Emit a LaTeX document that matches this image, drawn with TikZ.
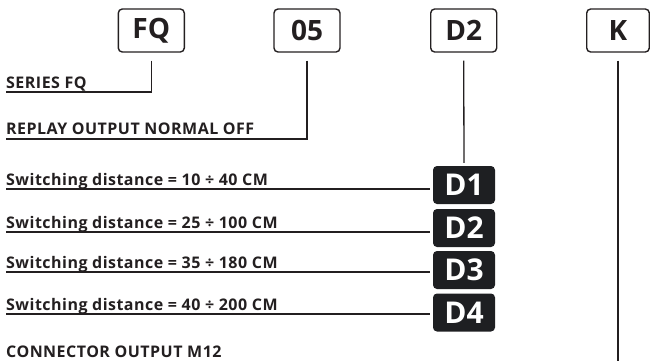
\documentclass[tikz,border=0pt]{standalone}
\usepackage{fontspec}
\setmainfont{Open Sans}
\newfontfamily\labelfont[LetterSpace=3]{Open Sans}
\definecolor{ink}{RGB}{35,31,32}
\definecolor{tagfill}{RGB}{30,31,34}
\begin{document}
\begin{tikzpicture}[x=1pt,y=-1pt,
  codebox/.style={draw=ink, line width=1.4pt, rounded corners=4pt,
    minimum width=66pt, minimum height=43pt, inner sep=0pt, text=ink,
    font=\bfseries\fontsize{28}{28}\selectfont},
  tag/.style={fill=tagfill, rounded corners=4pt, minimum width=62pt,
    minimum height=38pt, inner sep=0pt, text=white,
    font=\bfseries\fontsize{30}{30}\selectfont},
  label/.style={anchor=base west, inner sep=0pt, text=ink,
    font=\labelfont\bfseries\fontsize{16}{16}\selectfont},
  lead/.style={draw=ink, line width=1.3pt}
]
\useasboundingbox (0,0) rectangle (650,360);

% code boxes along the top
\node[codebox] (fq)  at (151.3,30.5) {FQ};
\node[codebox] (c05) at (307,30.5) {05};
\node[codebox] (cd2) at (463.7,30.5) {D2};
\node[codebox, minimum width=62.6pt] (ck) at (618,30.5) {K};

% option descriptions
\node[label] (tser) at (6,88) {SERIES FQ};
\node[label] (trep) at (6,134) {REPLAY OUTPUT NORMAL OFF};
\node[label] (t1) at (6,185.5) {Switching distance = 10 ÷ 40 CM};
\node[label] (t2) at (6,228) {Switching distance = 25 ÷ 100 CM};
\node[label] (t3) at (6,268) {Switching distance = 35 ÷ 180 CM};
\node[label] (t4) at (6,310) {Switching distance = 40 ÷ 200 CM};
\node[label] (tcon) at (6,357.5) {CONNECTOR OUTPUT M12};

% distance tags
\node[tag] (d1) at (464,185) {D1};
\node[tag] (d2) at (464,228) {D2};
\node[tag] (d3) at (464,270) {D3};
\node[tag] (d4) at (464,312.5) {D4};

% underlines under the descriptions
\coordinate (userf) at ([yshift=-4pt]tser.base west);
\coordinate (urep)  at ([yshift=-5pt]trep.base west);
\coordinate (u1) at ([yshift=-3.5pt]t1.base west);
\coordinate (u2) at ([yshift=-4pt]t2.base west);
\coordinate (u3) at ([yshift=-4pt]t3.base west);
\coordinate (u4) at ([yshift=-4pt]t4.base west);
\coordinate (kend) at (ck.south |- 0,362);

% leaders from the code boxes
\draw[lead, shorten <=8pt] (fq.south) |- (userf);
\draw[lead, shorten <=8pt] (c05.south) |- (urep);
\draw[lead, shorten <=8pt, shorten >=3pt] (cd2.south) -- (d1.north);
\draw[lead, shorten <=8pt] (ck.south) -- (kend);

% leaders from the descriptions to the tags
\draw[lead, shorten >=3pt] (u1) -- (u1 -| d1.west);
\draw[lead, shorten >=3pt] (u2) -- (u2 -| d2.west);
\draw[lead, shorten >=3pt] (u3) -- (u3 -| d3.west);
\draw[lead, shorten >=3pt] (u4) -- (u4 -| d4.west);
\end{tikzpicture}
\end{document}
